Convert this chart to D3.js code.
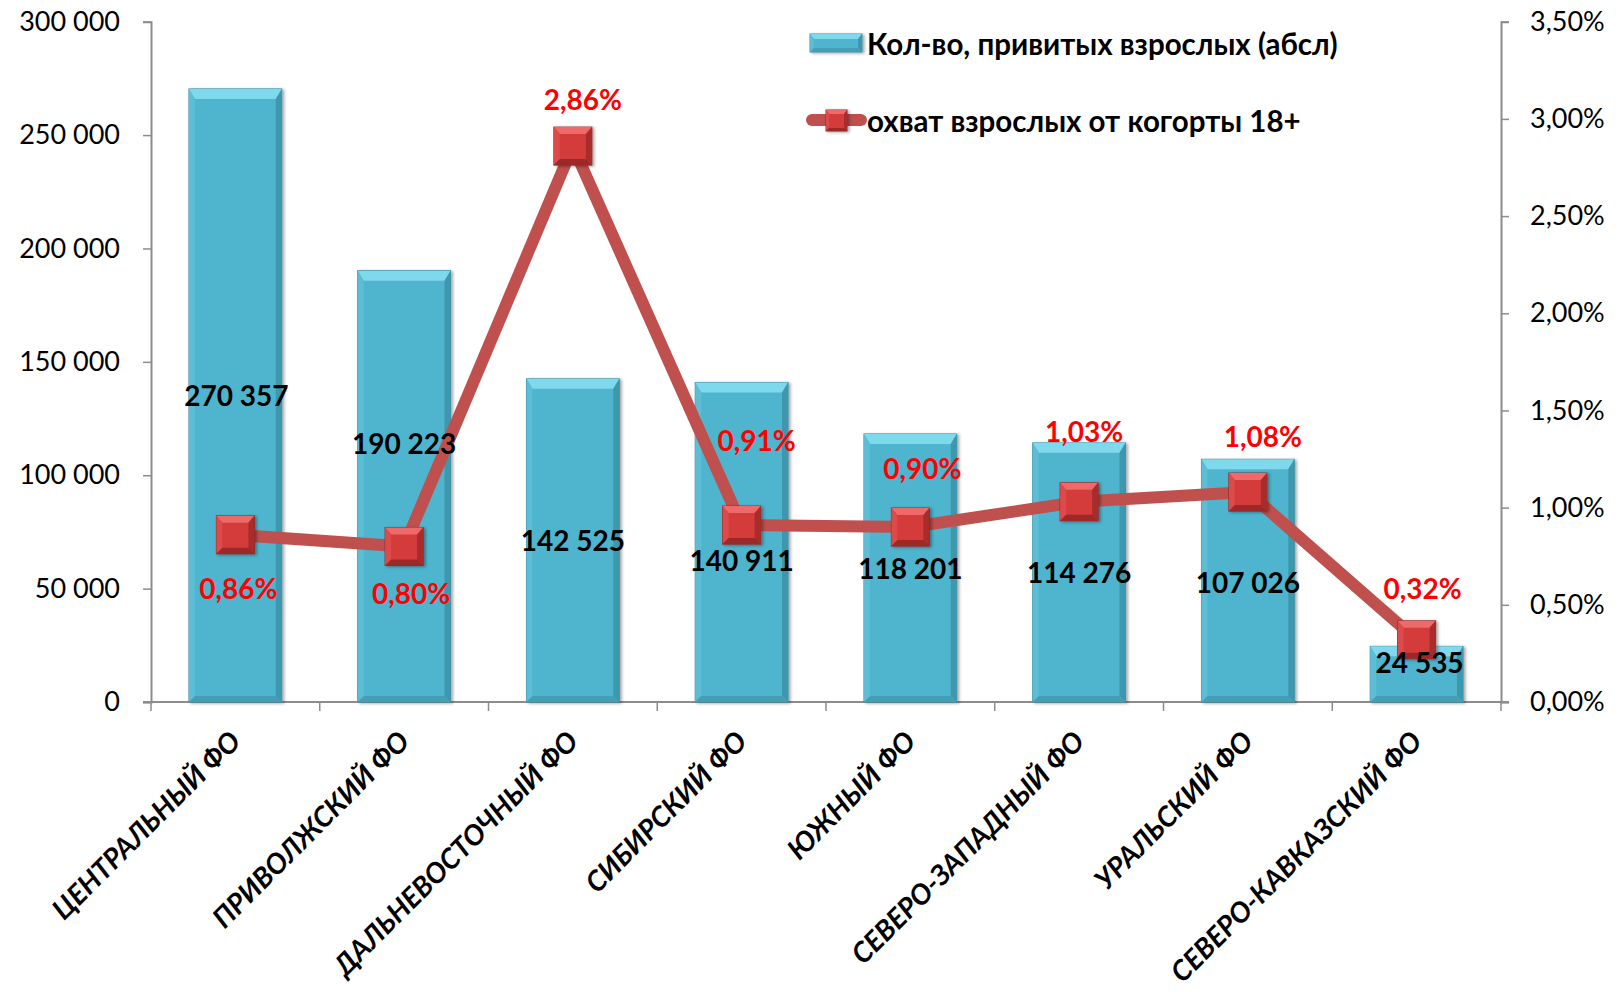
<html>
<head>
<meta charset="utf-8">
<script src="https://d3js.org/d3.v7.min.js"></script>
<style>
  body { margin: 0; background: #fff; }
  text { font-family: Lato, "Open Sans", sans-serif; }
  .tick text { font-size: 27px; fill: #000; }
  .val { font-size: 28px; font-weight: bold; fill: #000; }
  .pct { font-size: 28px; font-weight: bold; fill: #ff0000; }
  .cat { font-size: 28px; font-weight: bold; font-style: italic; fill: #000; }
  .leg { font-size: 29.5px; font-weight: bold; fill: #000; }
</style>
</head>
<body>
<svg width="1623" height="992"></svg>
<script>

// data
var regions = ["ЦЕНТРАЛЬНЫЙ ФО", "ПРИВОЛЖСКИЙ ФО", "ДАЛЬНЕВОСТОЧНЫЙ ФО", "СИБИРСКИЙ ФО",
               "ЮЖНЫЙ ФО", "СЕВЕРО-ЗАПАДНЫЙ ФО", "УРАЛЬСКИЙ ФО", "СЕВЕРО-КАВКАЗСКИЙ ФО"];
var vaccinated = [270357, 190223, 142525, 140911, 118201, 114276, 107026, 24535];
var coverage = [0.0086, 0.0080, 0.0286, 0.0091, 0.0090, 0.0103, 0.0108, 0.0032];
var leftTicks = [0, 50000, 100000, 150000, 200000, 250000, 300000];
var rightTicks = [0, 0.005, 0.01, 0.015, 0.02, 0.025, 0.03, 0.035];
var barName = "Кол-во, привитых взрослых (абсл)";
var lineName = "охват взрослых от когорты 18+";

// label nudges (px) as placed by hand in the original
var valShift = [[1, 0], [0, -43], [0, 0], [0, 18], [0, 0], [0, 0], [0, 1], [3, -12]];
var pctShift = [[3, 53], [7, 46], [10, -47], [15, -85], [12, -59], [5, -71], [15, -56], [6, -52]];

var svg = d3.select("svg");
var plotL = 151, plotR = 1501, plotT = 21.7, plotB = 702;

var ru = d3.formatLocale({decimal: ",", thousands: " ", grouping: [3], currency: ["", ""]});
var fmtNum = ru.format(",.0f");
var fmtPct = ru.format(".2%");

var x = d3.scaleBand().domain(regions).range([plotL, plotR]).paddingInner(0.45).paddingOuter(0.225);
var yL = d3.scaleLinear().domain([0, 300000]).range([plotB, plotT]);
var yR = d3.scaleLinear().domain([0, 0.035]).range([plotB, plotT]);

var defs = svg.append("defs");
var f = defs.append("filter").attr("id", "sh").attr("x", "-20%").attr("y", "-20%").attr("width", "150%").attr("height", "150%");
f.append("feDropShadow").attr("dx", 2).attr("dy", 1).attr("stdDeviation", 1.5).attr("flood-color", "#000").attr("flood-opacity", 0.35);

function bevel(g, bx, by, w, h, c, b) {
  g.append("rect").attr("x", bx).attr("y", by).attr("width", w).attr("height", h)
    .attr("fill", c.body).attr("stroke", c.edge).attr("stroke-width", 1).attr("filter", "url(#sh)");
  var tb = Math.min(b.t, h / 2), sb = Math.min(b.s, h / 2);
  g.append("polygon").attr("fill", c.top)
    .attr("points", [[bx, by], [bx + w, by], [bx + w - sb, by + tb], [bx + sb, by + tb]].join(" "));
  g.append("polygon").attr("fill", c.left)
    .attr("points", [[bx, by], [bx + sb, by + tb], [bx + sb, by + h - sb], [bx, by + h]].join(" "));
  g.append("polygon").attr("fill", c.right)
    .attr("points", [[bx + w, by], [bx + w, by + h], [bx + w - sb, by + h - sb], [bx + w - sb, by + tb]].join(" "));
  g.append("polygon").attr("fill", c.bot)
    .attr("points", [[bx, by + h], [bx + w, by + h], [bx + w - sb, by + h - sb], [bx + sb, by + h - sb]].join(" "));
}

var barCol = {body: "#50b4cd", edge: "#3f8ea3", top: "#7fd9ec", left: "#5cbdd5", right: "#3d97ad", bot: "#429fb6"};
var mkCol = {body: "#d43b3b", edge: "#8a2a2a", top: "#ee6a6a", left: "#dc4a4a", right: "#a82c2c", bot: "#9c2828"};

// axes
var axisColor = "#8c8c8c";
var gl = svg.append("g").attr("transform", "translate(" + plotL + ",0)")
  .call(d3.axisLeft(yL).tickValues(leftTicks).tickFormat(fmtNum).tickSize(8).tickPadding(23));
var gr = svg.append("g").attr("transform", "translate(" + plotR + ",0)")
  .call(d3.axisRight(yR).tickValues(rightTicks).tickFormat(fmtPct).tickSize(8).tickPadding(21));
[gl, gr].forEach(function(g) {
  g.select(".domain").attr("stroke", axisColor).attr("stroke-width", 2);
  g.selectAll(".tick line").attr("stroke", axisColor).attr("stroke-width", 1.5);
});

// bottom axis: line + ticks at category borders
svg.append("line").attr("x1", plotL - 8).attr("x2", plotR + 8).attr("y1", plotB).attr("y2", plotB)
  .attr("stroke", axisColor).attr("stroke-width", 2);
svg.append("g").selectAll("line").data(d3.range(regions.length + 1)).enter().append("line")
  .attr("x1", function(i) { return plotL + i * x.step(); })
  .attr("x2", function(i) { return plotL + i * x.step(); })
  .attr("y1", plotB).attr("y2", plotB + 9)
  .attr("stroke", axisColor).attr("stroke-width", 1.5);

// category labels
svg.append("g").selectAll("text").data(regions).enter().append("text")
  .attr("class", "cat")
  .attr("text-anchor", "end")
  .attr("transform", function(d) {
    return "translate(" + (x(d) + x.bandwidth() / 2 + 7) + "," + (plotB + 41) + ") rotate(-45)";
  })
  .text(function(d) { return d; });

// bars
var gb = svg.append("g");
regions.forEach(function(r, i) {
  var yv = yL(vaccinated[i]);
  bevel(gb, x(r), yv, x.bandwidth(), plotB - yv, barCol, {t: 10, s: 6});
});

// line
var cx = function(d, i) { return x(regions[i]) + x.bandwidth() / 2; };
svg.append("path").datum(coverage)
  .attr("fill", "none").attr("stroke", "#c0504d").attr("stroke-width", 12).attr("stroke-linejoin", "round")
  .attr("d", d3.line().x(cx).y(function(d) { return yR(d); }));

// markers
var gm = svg.append("g");
var ms = 38;
coverage.forEach(function(d, i) {
  bevel(gm, cx(d, i) - ms / 2, yR(d) - ms / 2, ms, ms, mkCol, {t: 7, s: 6});
});

// value labels
svg.append("g").selectAll("text").data(vaccinated).enter().append("text")
  .attr("class", "val").attr("text-anchor", "middle").attr("dominant-baseline", "central")
  .attr("x", function(d, i) { return cx(d, i) + valShift[i][0]; })
  .attr("y", function(d) { return (yL(d) + plotB) / 2; })
  .attr("dy", function(d, i) { return valShift[i][1]; })
  .text(fmtNum);

// percent labels
svg.append("g").selectAll("text").data(coverage).enter().append("text")
  .attr("class", "pct").attr("text-anchor", "middle").attr("dominant-baseline", "central")
  .attr("x", function(d, i) { return cx(d, i) + pctShift[i][0]; })
  .attr("y", function(d, i) { return yR(d) + pctShift[i][1]; })
  .text(fmtPct);

// legend
var lg = svg.append("g");
bevel(lg, 810, 34, 52, 18, barCol, {t: 5, s: 4});
lg.append("text").attr("class", "leg").attr("x", 867).attr("y", 43).attr("dominant-baseline", "central").text(barName);
lg.append("line").attr("x1", 812).attr("x2", 861).attr("y1", 120).attr("y2", 120)
  .attr("stroke", "#c0504d").attr("stroke-width", 12).attr("stroke-linecap", "round");
bevel(lg, 826, 110, 21, 21, mkCol, {t: 4, s: 3});
lg.append("text").attr("class", "leg").attr("x", 867).attr("y", 120).attr("dominant-baseline", "central").text(lineName);

</script>
</body>
</html>
